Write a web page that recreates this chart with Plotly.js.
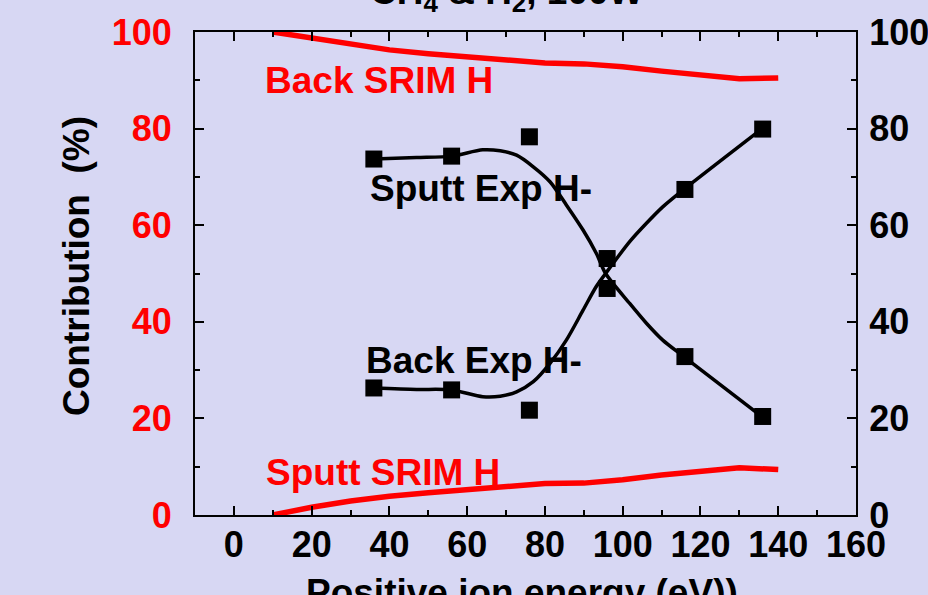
<!DOCTYPE html>
<html>
<head>
<meta charset="utf-8">
<script src="https://cdn.plot.ly/plotly-3.0.1.min.js"></script>
<style>
  html, body { margin: 0; padding: 0; background: #d7d7f3; }
  #chart { width: 928px; height: 595px; }
</style>
</head>
<body>
<div id="chart"></div>
<script>
// SRIM simulation: contributions of backscattered and sputtered H vs ion energy
const srimEnergy = [10, 20, 30, 40, 50, 60, 70, 80, 90, 100, 110, 120, 130, 140];
const backSrim   = [100, 98.8, 97.4, 96.3, 95.5, 94.9, 94.4, 93.6, 93.4, 92.8, 91.9, 91.1, 90.3, 90.5];
const sputtSrim  = [0, 1.6, 2.9, 3.9, 4.6, 5.2, 5.8, 6.5, 6.6, 7.3, 8.3, 9.1, 9.8, 9.4];

// Measured H- contributions
const expEnergy = [36, 56, 76, 96, 116, 136];
const sputtExp  = [73.7, 74.3, 78.3, 53.1, 32.8, 20.4];
const backExp   = [26.3, 25.9, 21.7, 46.9, 67.4, 79.9];

// Smoothed trend curves through the measurements
const fitEnergy = [36, 47, 56, 64, 68.5, 72.7, 77, 81.3, 85.5, 89.8, 93.2, 95.6, 101.8, 106.1, 110.3, 115.7, 135.7];
const sputtFit  = [73.7, 74.0, 74.3, 75.6, 75.4, 74.5, 72.1, 69.0, 64.2, 59.0, 54.2, 50.0, 43.8, 39.7, 36.2, 32.8, 20.4];
const backFit   = [26.3, 26.0, 25.9, 24.5, 24.6, 25.5, 27.6, 31.4, 36.2, 42.4, 47.3, 50.0, 56.6, 60.4, 63.8, 67.4, 79.9];

// Axis ticks
const xTicks = [0, 20, 40, 60, 80, 100, 120, 140, 160];
const yTicks = [0, 20, 40, 60, 80, 100];

const FONT = 'Liberation Sans, Arial, Helvetica, sans-serif';
const RED = '#ff0000';
const BG = '#d7d7f3';

const traces = [
  { x: srimEnergy, y: backSrim, mode: 'lines', line: { color: RED, width: 5.5 }, hoverinfo: 'skip' },
  { x: srimEnergy, y: sputtSrim, mode: 'lines', line: { color: RED, width: 5.5 }, hoverinfo: 'skip' },
  { x: fitEnergy, y: sputtFit, mode: 'lines', line: { color: '#000', width: 3.5, shape: 'spline', smoothing: 0.8 } },
  { x: fitEnergy, y: backFit, mode: 'lines', line: { color: '#000', width: 3.5, shape: 'spline', smoothing: 0.8 } },
  { x: expEnergy, y: sputtExp, mode: 'markers', marker: { symbol: 'square', size: 17, color: '#000' } },
  { x: expEnergy, y: backExp, mode: 'markers', marker: { symbol: 'square', size: 17, color: '#000' } },
  // carries the right-hand axis
  { x: [null], y: [null], yaxis: 'y2', showlegend: false, hoverinfo: 'skip' }
];

const tickFont = (c) => ({ family: FONT, size: 36, color: c, weight: 700 });

const label = (text, x, y, color, extra) => Object.assign({
  text: text, x: x, y: y, xref: 'x', yref: 'y', xanchor: 'left', yanchor: 'middle',
  showarrow: false, font: { family: FONT, size: 37, color: color, weight: 700 }
}, extra || {});

const layout = {
  width: 928, height: 595,
  margin: { l: 195, r: 72, t: 32, b: 80, pad: 0 },
  paper_bgcolor: BG, plot_bgcolor: BG,
  showlegend: false,
  xaxis: {
    range: [-10, 160], tickvals: xTicks, ticktext: xTicks.map(String),
    showline: true, linecolor: '#000', linewidth: 2, mirror: 'ticks',
    ticks: 'inside', ticklen: 9, tickwidth: 2, tickcolor: '#000',
    minor: { dtick: 10, tick0: 0, ticks: 'inside', ticklen: 5, tickwidth: 2, tickcolor: '#000' },
    showgrid: false, zeroline: false, tickfont: tickFont('#000'), ticklabelstandoff: -3
  },
  yaxis: {
    range: [0, 100], tickvals: yTicks, ticktext: yTicks.map(String),
    showline: true, linecolor: '#000', linewidth: 2,
    ticks: 'inside', ticklen: 9, tickwidth: 2, tickcolor: '#000',
    minor: { dtick: 10, tick0: 0, ticks: 'inside', ticklen: 5, tickwidth: 2, tickcolor: '#000' },
    showgrid: false, zeroline: false, tickfont: tickFont(RED), ticklabelstandoff: 14
  },
  yaxis2: {
    range: [0, 100], tickvals: yTicks, ticktext: yTicks.map(String),
    overlaying: 'y', side: 'right', anchor: 'x',
    showline: true, linecolor: '#000', linewidth: 2,
    ticks: 'inside', ticklen: 9, tickwidth: 2, tickcolor: '#000',
    minor: { dtick: 10, tick0: 0, ticks: 'inside', ticklen: 5, tickwidth: 2, tickcolor: '#000' },
    showgrid: false, zeroline: false, tickfont: tickFont('#000'), ticklabelstandoff: 4
  },
  annotations: [
    label('Back SRIM H', 7.5, 89.9, RED),
    label('Sputt SRIM H', 7.8, 8.8, RED),
    label('Sputt Exp H-', 34.5, 67.6, '#000'),
    label('Back Exp H-', 33.5, 32.0, '#000'),
    {
      text: 'Contribution \u00a0(%)', xref: 'paper', yref: 'paper',
      x: (76 - 195) / 661, y: (515 - 266) / 483, xanchor: 'center', yanchor: 'middle',
      textangle: -90, showarrow: false,
      font: { family: FONT, size: 37, color: '#000', weight: 700 }
    },
    {
      text: 'Positive ion energy (eV))', xref: 'paper', yref: 'paper',
      x: (522 - 195) / 661, y: (515 - 570) / 483, xanchor: 'center', yanchor: 'top',
      showarrow: false, font: { family: FONT, size: 37, color: '#000', weight: 700 }
    },
    {
      text: 'CH<sub>4</sub> & H<sub>2</sub>, 100W', xref: 'paper', yref: 'paper',
      x: (507 - 195) / 661, y: (515 - 19) / 483, xanchor: 'center', yanchor: 'bottom',
      showarrow: false, font: { family: FONT, size: 37, color: '#000', weight: 700 }
    }
  ]
};

Plotly.newPlot('chart', traces, layout, { displayModeBar: false, staticPlot: true });
</script>
</body>
</html>
